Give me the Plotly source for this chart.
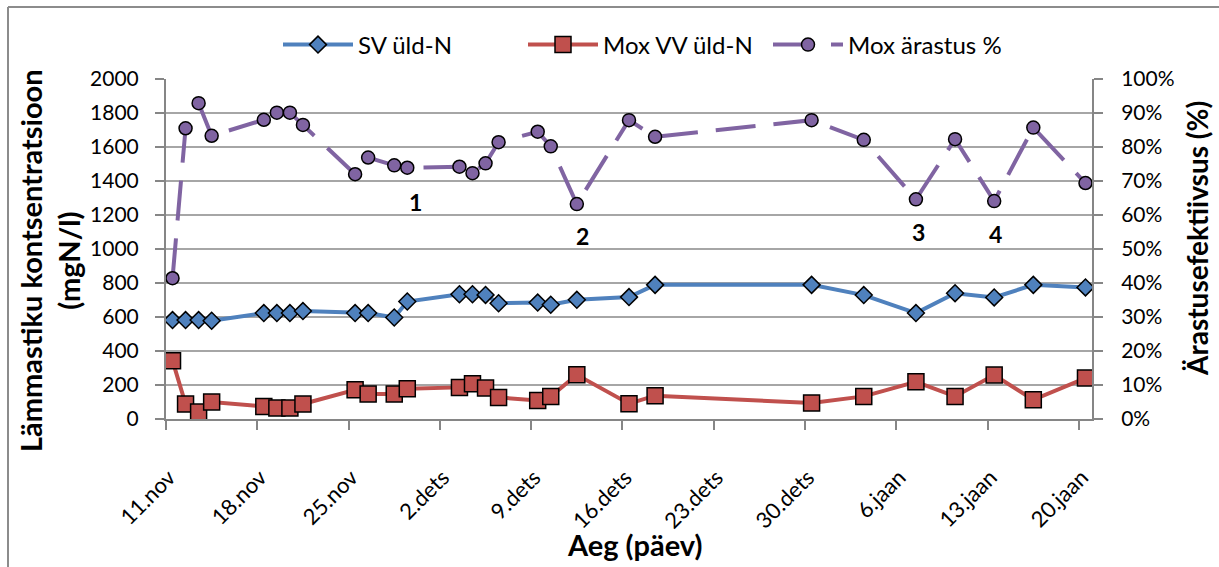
import pandas as pd
import plotly.graph_objects as go

# ---- data ----
dates = ["2012-11-11", "2012-11-12", "2012-11-13", "2012-11-14", "2012-11-18", "2012-11-19",
         "2012-11-20", "2012-11-21", "2012-11-25", "2012-11-26", "2012-11-28", "2012-11-29",
         "2012-12-03", "2012-12-04", "2012-12-05", "2012-12-06", "2012-12-09", "2012-12-10",
         "2012-12-12", "2012-12-16", "2012-12-18", "2012-12-30", "2013-01-03", "2013-01-07",
         "2013-01-10", "2013-01-13", "2013-01-16", "2013-01-20"]
sv_uld_n = [582, 582, 582, 578, 623, 623, 623, 635, 623, 623, 597, 691, 734, 734,
            730, 681, 685, 672, 701, 717, 789, 789, 729, 623, 740, 715, 789, 774]
mox_vv_uld_n = [343, 88, 41, 100, 74, 65, 65, 88, 172, 147, 147, 178, 186, 207,
                182, 127, 109, 133, 260, 90, 137, 94, 133, 219, 133, 259, 113, 241]
mox_arastus = [41.4, 85.5, 92.9, 83.3, 88.0, 90.1, 90.1, 86.5, 72.0, 76.9, 74.6, 73.9, 74.2, 72.3,
               75.2, 81.4, 84.5, 80.2, 63.2, 87.9, 83.0, 87.9, 82.1, 64.6, 82.3, 64.1, 85.7, 69.4]
tick_dates = ["2012-11-11", "2012-11-18", "2012-11-25", "2012-12-02", "2012-12-09", "2012-12-16",
              "2012-12-23", "2012-12-30", "2013-01-06", "2013-01-13", "2013-01-20"]
tick_labels = ["11.nov", "18.nov", "25.nov", "2.dets", "9.dets", "16.dets",
               "23.dets", "30.dets", "6.jaan", "13.jaan", "20.jaan"]
event_labels = ["1", "2", "3", "4"]
event_x = [19.13, 31.9, 57.7, 63.6]       # days after 11.nov
event_y = [1279, 1079, 1099, 1089]

# Excel date axis: points sit in the middle of each day
x = pd.to_datetime(dates) + pd.Timedelta(hours=12)
start = pd.Timestamp("2012-11-11")
x_end = pd.Timestamp("2013-01-21")

FONT = "Lato, 'Open Sans', sans-serif"
BLUE, RED, PURPLE = "#4F81BD", "#C0504D", "#8064A2"

fig = go.Figure()
fig.add_trace(go.Scatter(
    x=x, y=sv_uld_n, name="SV üld-N", mode="lines+markers",
    line=dict(color=BLUE, width=4),
    marker=dict(symbol="diamond", size=13, color=BLUE, line=dict(color="black", width=1.5))))
fig.add_trace(go.Scatter(
    x=x, y=mox_vv_uld_n, name="Mox VV üld-N", mode="lines+markers",
    line=dict(color=RED, width=4),
    marker=dict(symbol="square", size=16, color=RED, line=dict(color="black", width=1.5))))
fig.add_trace(go.Scatter(
    x=x, y=mox_arastus, name="Mox ärastus %", mode="lines+markers", yaxis="y2",
    line=dict(color=PURPLE, width=4, dash="40px,18px"),
    marker=dict(symbol="circle", size=13, color=PURPLE, line=dict(color="black", width=1.5))))

for lab, dx, vy in zip(event_labels, event_x, event_y):
    fig.add_annotation(x=start + pd.Timedelta(days=dx), y=vy, xref="x", yref="y",
                       text=f"<b>{lab}</b>", showarrow=False,
                       font=dict(family=FONT, size=23, color="black"))

L, R, T, B = 166, 1092, 79, 419
W, H = R - L, B - T
def px(xp): return (xp - L) / W
def py(yp): return (B - yp) / H

fig.add_annotation(x=px(49), y=py(261), xref="paper", yref="paper", textangle=-90,
                   xanchor="center", yanchor="middle",
                   text="<b>Lämmastiku kontsentratsioon<br>(mgN/l)</b>", showarrow=False,
                   font=dict(family=FONT, size=29, color="black"))
fig.add_annotation(x=px(1197), y=py(239), xref="paper", yref="paper", textangle=-90,
                   xanchor="center", yanchor="middle",
                   text="<b>Ärastusefektiivsus (%)</b>", showarrow=False,
                   font=dict(family=FONT, size=28, color="black"))
fig.add_annotation(x=px(634), y=py(544), xref="paper", yref="paper",
                   xanchor="center", yanchor="middle",
                   text="<b>Aeg (päev)</b>", showarrow=False,
                   font=dict(family=FONT, size=29, color="black"))

# chart-area border (left and top visible)
fig.add_shape(type="line", xref="paper", yref="paper", x0=px(8), x1=px(8), y0=py(580), y1=py(7),
              line=dict(color="#8C8C8C", width=2))
fig.add_shape(type="line", xref="paper", yref="paper", x0=px(8), x1=px(1240), y0=py(7), y1=py(7),
              line=dict(color="#8C8C8C", width=2))

axis_common = dict(showline=True, linecolor="#868686", linewidth=2, ticks="outside",
                   tickcolor="#868686", ticklen=9, tickwidth=2)

fig.update_layout(
    width=1219, height=567,
    margin=dict(l=L, r=1219 - R, t=T, b=567 - B, autoexpand=False),
    paper_bgcolor="white", plot_bgcolor="white",
    font=dict(family=FONT, color="black"),
    showlegend=True,
    legend=dict(orientation="h", x=px(278), xanchor="left", y=py(45), yanchor="middle",
                font=dict(family=FONT, size=24, color="black"), itemwidth=70,
                entrywidth=160, traceorder="normal", bgcolor="rgba(0,0,0,0)"),
    xaxis=dict(type="date", range=[start, x_end], tickvals=pd.to_datetime(tick_dates),
               ticktext=tick_labels, tickangle=-45, showgrid=False, zeroline=False,
               ticklabelstandoff=26, ticklabelshift=3,
               tickfont=dict(family=FONT, size=22, color="black"), **axis_common),
    yaxis=dict(range=[0, 2000], dtick=200, showgrid=True, gridcolor="#A6A6A6", gridwidth=1.5,
               zeroline=False, ticklabelstandoff=12,
               tickfont=dict(family=FONT, size=21, color="black"), **axis_common),
    yaxis2=dict(range=[0, 100], dtick=10, ticksuffix="%", overlaying="y", side="right",
                showgrid=False, zeroline=False, ticklabelstandoff=14,
                tickfont=dict(family=FONT, size=21, color="black"), **axis_common),
)

fig.write_html("out.html")
